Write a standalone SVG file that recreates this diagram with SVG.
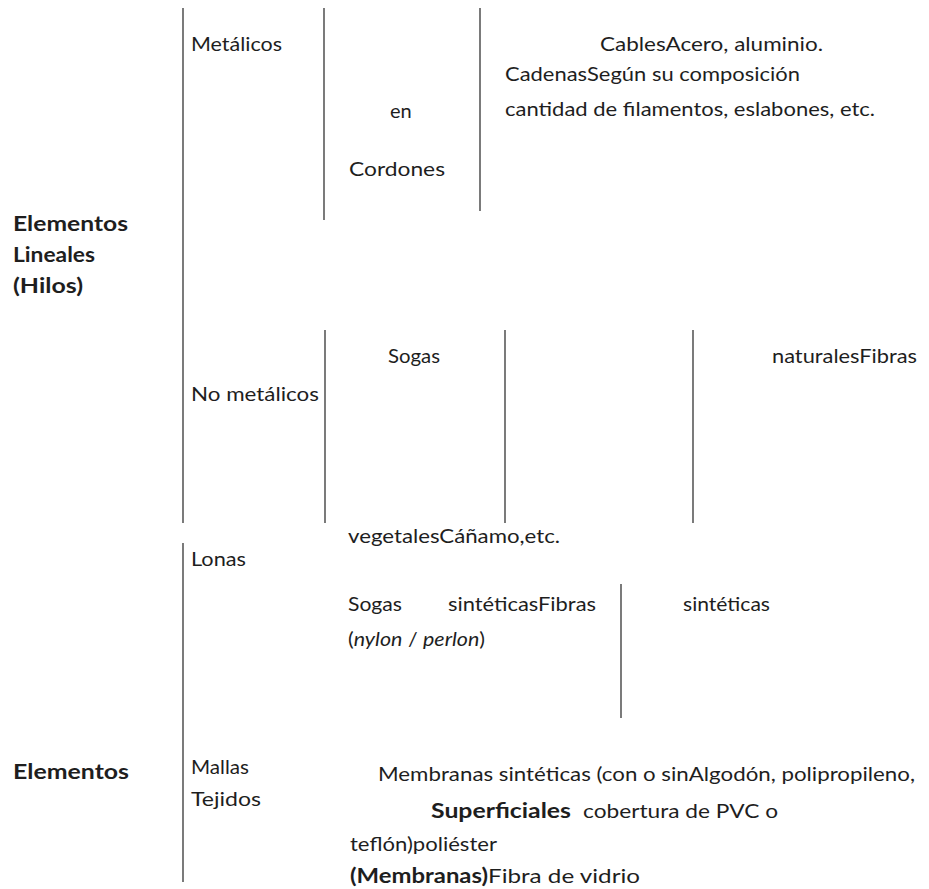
<svg xmlns="http://www.w3.org/2000/svg" width="929" height="889" viewBox="0 0 929 889">
<style>
  text { font-family: Lato, "Open Sans", "DejaVu Sans", sans-serif; font-size: 20px; fill: #1e1e1e; }
  .b { font-weight: bold; }
  .i { font-style: italic; }
  line { stroke: #333; stroke-width: 1.3; }
</style>
<rect width="929" height="889" fill="#fff"/>
<g id="connectors">
  <line x1="183" y1="8" x2="183" y2="523"/>
  <line x1="183" y1="543" x2="183" y2="882"/>
  <line x1="324" y1="8" x2="324" y2="220"/>
  <line x1="480" y1="8" x2="480" y2="211"/>
  <line x1="325" y1="330" x2="325" y2="523"/>
  <line x1="505" y1="330" x2="505" y2="523"/>
  <line x1="693" y1="330" x2="693" y2="523"/>
  <line x1="621" y1="584" x2="621" y2="718"/>
</g>
<g id="elementos-lineales">
  <text class="b" x="13" y="231" textLength="115" lengthAdjust="spacingAndGlyphs">Elementos</text>
  <text class="b" x="13" y="262" textLength="82" lengthAdjust="spacingAndGlyphs">Lineales</text>
  <text class="b" x="13" y="293" textLength="70" lengthAdjust="spacingAndGlyphs">(Hilos)</text>
</g>
<g id="metalicos">
  <text x="191" y="51" textLength="91" lengthAdjust="spacingAndGlyphs">Metálicos</text>
</g>
<g id="cordones">
  <text x="390" y="118">en</text>
  <text x="349" y="176" textLength="96" lengthAdjust="spacingAndGlyphs">Cordones</text>
</g>
<g id="cables">
  <text x="600" y="51" textLength="223" lengthAdjust="spacingAndGlyphs">CablesAcero, aluminio.</text>
  <text x="505" y="81" textLength="295" lengthAdjust="spacingAndGlyphs">CadenasSegún su composición</text>
  <text x="505" y="116" textLength="370" lengthAdjust="spacingAndGlyphs">cantidad de filamentos, eslabones, etc.</text>
</g>
<g id="no-metalicos">
  <text x="191" y="401" textLength="128" lengthAdjust="spacingAndGlyphs">No metálicos</text>
</g>
<g id="sogas">
  <text x="388" y="363" textLength="52" lengthAdjust="spacingAndGlyphs">Sogas</text>
</g>
<g id="fibras-naturales">
  <text x="772" y="363" textLength="145" lengthAdjust="spacingAndGlyphs">naturalesFibras</text>
</g>
<g id="vegetales">
  <text x="348" y="543" textLength="212" lengthAdjust="spacingAndGlyphs">vegetalesCáñamo,etc.</text>
</g>
<g id="lonas">
  <text x="191" y="566" textLength="55" lengthAdjust="spacingAndGlyphs">Lonas</text>
</g>
<g id="sogas-sinteticas">
  <text x="348" y="611" textLength="54" lengthAdjust="spacingAndGlyphs">Sogas</text>
  <text x="448" y="611" textLength="148" lengthAdjust="spacingAndGlyphs">sintéticasFibras</text>
  <text x="348" y="646" textLength="137" lengthAdjust="spacingAndGlyphs">(<tspan class="i">nylon</tspan> / <tspan class="i">perlon</tspan>)</text>
</g>
<g id="sinteticas">
  <text x="683" y="611" textLength="87" lengthAdjust="spacingAndGlyphs">sintéticas</text>
</g>
<g id="elementos-superficiales">
  <text class="b" x="13" y="779" textLength="116" lengthAdjust="spacingAndGlyphs">Elementos</text>
</g>
<g id="mallas-tejidos">
  <text x="191" y="774" textLength="58" lengthAdjust="spacingAndGlyphs">Mallas</text>
  <text x="191" y="806" textLength="70" lengthAdjust="spacingAndGlyphs">Tejidos</text>
</g>
<g id="membranas">
  <text x="378" y="781" textLength="537" lengthAdjust="spacingAndGlyphs">Membranas sintéticas (con o sinAlgodón, polipropileno,</text>
  <text class="b" x="431" y="818" textLength="140" lengthAdjust="spacingAndGlyphs">Superficiales</text>
  <text x="583" y="818" textLength="195" lengthAdjust="spacingAndGlyphs">cobertura de PVC o</text>
  <text x="350" y="851" textLength="147" lengthAdjust="spacingAndGlyphs">teflón)poliéster</text>
  <text class="b" x="350" y="883" textLength="138" lengthAdjust="spacingAndGlyphs">(Membranas)</text>
  <text x="488" y="883" textLength="152" lengthAdjust="spacingAndGlyphs">Fibra de vidrio</text>
</g>
</svg>
